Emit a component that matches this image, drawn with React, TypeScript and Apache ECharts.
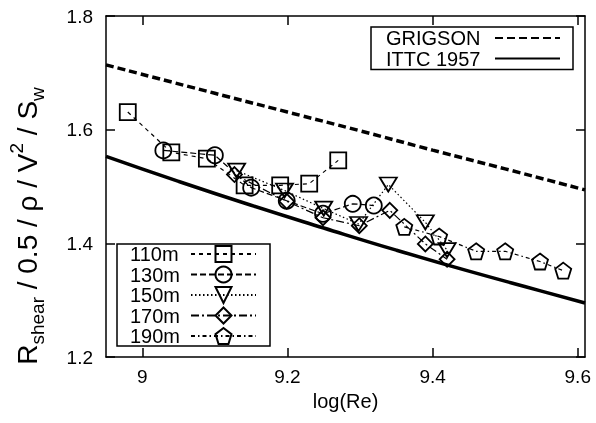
import React, { useEffect, useRef } from 'react';
import * as echarts from 'echarts';

const xTicks = [9, 9.2, 9.4, 9.6];
const yTicks = [1.2, 1.4, 1.6, 1.8];

const grigsonX = [8.95, 9.1, 9.2, 9.3, 9.4, 9.5, 9.61];
const grigsonY = [1.714, 1.664, 1.631, 1.598, 1.564, 1.531, 1.494];

const ittcX = [8.95, 9.05, 9.15, 9.25, 9.35, 9.45, 9.55, 9.61];
const ittcY = [1.553, 1.509, 1.467, 1.427, 1.388, 1.351, 1.316, 1.295];

const m110X = [8.98, 9.04, 9.089, 9.141, 9.19, 9.23, 9.27];
const m110Y = [1.631, 1.56, 1.549, 1.502, 1.502, 1.505, 1.546];

const m130X = [9.029, 9.1, 9.15, 9.199, 9.249, 9.29, 9.319];
const m130Y = [1.5635, 1.555, 1.498, 1.475, 1.452, 1.4695, 1.4665];

const m150X = [9.13, 9.196, 9.25, 9.298, 9.339, 9.39, 9.42];
const m150Y = [1.528, 1.493, 1.461, 1.434, 1.5035, 1.437, 1.388];

const m170X = [9.127, 9.199, 9.249, 9.299, 9.341, 9.39, 9.42];
const m170Y = [1.521, 1.474, 1.445, 1.431, 1.458, 1.399, 1.372];

const m190X = [9.361, 9.409, 9.46, 9.5, 9.548, 9.58];
const m190Y = [1.429, 1.412, 1.386, 1.386, 1.368, 1.352];

const FONT = 'Liberation Sans, Arial, Helvetica, sans-serif';
const PENTAGON = 'path://M0,-10L9.51,-3.09L5.88,8.09L-5.88,8.09L-9.51,-3.09Z';

const zip = (xs: number[], ys: number[]) => xs.map((x, i) => [x, ys[i]]);

function markerSeries(name: string, xs: number[], ys: number[], symbol: string, size: any, dash: number[], rotate = 0) {
  return {
    name,
    type: 'line',
    data: zip(xs, ys),
    symbol,
    symbolSize: size,
    symbolRotate: rotate,
    showSymbol: true,
    itemStyle: { color: 'rgba(0,0,0,0)', borderColor: '#000', borderWidth: 1.8 },
    lineStyle: { color: '#000', width: 1.2, type: dash },
    emphasis: { disabled: true },
    z: 3,
  };
}

export default function App() {
  const ref = useRef<HTMLDivElement>(null);
  useEffect(() => {
    if (!ref.current) return;
    const chart = echarts.init(ref.current, null, { renderer: 'svg' });
    const axisLine = { show: true, lineStyle: { color: '#000', width: 1.5 } };
    const tickX = { show: true, inside: true, length: 9, customValues: xTicks, lineStyle: { color: '#000', width: 1.5 } };
    const tickY = { show: true, inside: true, length: 9, customValues: yTicks, lineStyle: { color: '#000', width: 1.5 } };
    const legendText = (w: number) => ({
      color: '#000', fontSize: 20, fontFamily: FONT, lineHeight: 20,
      rich: { a: { width: w, align: 'left', color: '#000', fontSize: 20, fontFamily: FONT, lineHeight: 20 } },
    });
    chart.setOption({
      animation: false,
      grid: { left: 106, right: 11, top: 16, bottom: 66 },
      xAxis: [
        {
          type: 'value', min: 8.95, max: 9.61, position: 'bottom',
          axisLine, axisTick: tickX, splitLine: { show: false },
          axisLabel: {
            customValues: xTicks, margin: 10, color: '#000', fontSize: 19, fontFamily: FONT,
            formatter: (v: number) => String(Math.round(v * 10) / 10),
          },
          name: 'log(Re)', nameLocation: 'middle', nameGap: 32,
          nameTextStyle: { color: '#000', fontSize: 20, fontFamily: FONT },
        },
        {
          type: 'value', min: 8.95, max: 9.61, position: 'top',
          axisLine, axisTick: tickX, splitLine: { show: false }, axisLabel: { show: false },
        },
      ],
      yAxis: [
        {
          type: 'value', min: 1.2, max: 1.8, position: 'left',
          axisLine, axisTick: tickY, splitLine: { show: false },
          axisLabel: {
            customValues: yTicks, margin: 13, color: '#000', fontSize: 19, fontFamily: FONT,
            formatter: (v: number) => v.toFixed(1),
          },
        },
        {
          type: 'value', min: 1.2, max: 1.8, position: 'right',
          axisLine, axisTick: tickY, splitLine: { show: false }, axisLabel: { show: false },
        },
      ],
      legend: [
        {
          data: ['GRIGSON', 'ITTC 1957'],
          orient: 'vertical', left: 371, top: 27,
          padding: [1, 12, 1, 15], itemGap: 0.5, itemWidth: 65, itemHeight: 19,
          align: 'right', selectedMode: false,
          borderColor: '#000', borderWidth: 1.5, backgroundColor: '#fff',
          itemStyle: { color: 'rgba(0,0,0,0)', borderColor: 'rgba(0,0,0,0)', borderWidth: 0 },
          formatter: (n: string) => `{a|${n}}`,
          textStyle: legendText(104),
        },
        {
          data: ['110m', '130m', '150m', '170m', '190m'],
          orient: 'vertical', left: 117, top: 244,
          padding: [0, 13, 0, 13], itemGap: 0.5, itemWidth: 65, itemHeight: 20,
          align: 'right', selectedMode: false,
          borderColor: '#000', borderWidth: 1.5, backgroundColor: '#fff',
          formatter: (n: string) => `{a|${n}}`,
          textStyle: legendText(56),
        },
      ],
      graphic: [
        {
          type: 'text', x: 27, y: 226, rotation: Math.PI / 2,
          style: {
            text: '{m|R}{sub|shear}{m| / 0.5 / \u03c1 / V}{sup|2}{m| / S}{sub|w}',
            align: 'center', verticalAlign: 'middle', fill: '#000',
            rich: {
              m: { fontSize: 28, lineHeight: 40, fontFamily: FONT, fill: '#000' },
              sub: { fontSize: 19, lineHeight: 20, verticalAlign: 'bottom', fontFamily: FONT, fill: '#000' },
              sup: { fontSize: 19, lineHeight: 20, verticalAlign: 'top', fontFamily: FONT, fill: '#000' },
            },
          },
        },
      ],
      series: [
        {
          name: 'GRIGSON', type: 'line', data: zip(grigsonX, grigsonY), symbol: 'none', smooth: true,
          lineStyle: { color: '#000', width: 3.5, type: [8, 4] }, itemStyle: { color: '#000' }, z: 2,
        },
        {
          name: 'ITTC 1957', type: 'line', data: zip(ittcX, ittcY), symbol: 'none', smooth: true,
          lineStyle: { color: '#000', width: 3.5, type: 'solid' }, itemStyle: { color: '#000' }, z: 2,
        },
        markerSeries('110m', m110X, m110Y, 'rect', 16, [4, 4]),
        markerSeries('130m', m130X, m130Y, 'circle', 16, [6, 3]),
        markerSeries('150m', m150X, m150Y, 'triangle', [17, 14], [1.5, 2.5], 180),
        markerSeries('170m', m170X, m170Y, 'diamond', 15, [8, 3, 2, 3]),
        markerSeries('190m', m190X, m190Y, PENTAGON, 16, [4, 3, 1.5, 3]),
      ],
    });
    return () => chart.dispose();
  }, []);
  return <div ref={ref} style={{ position: 'fixed', left: 0, top: 0, width: 596, height: 423 }} />;
}
